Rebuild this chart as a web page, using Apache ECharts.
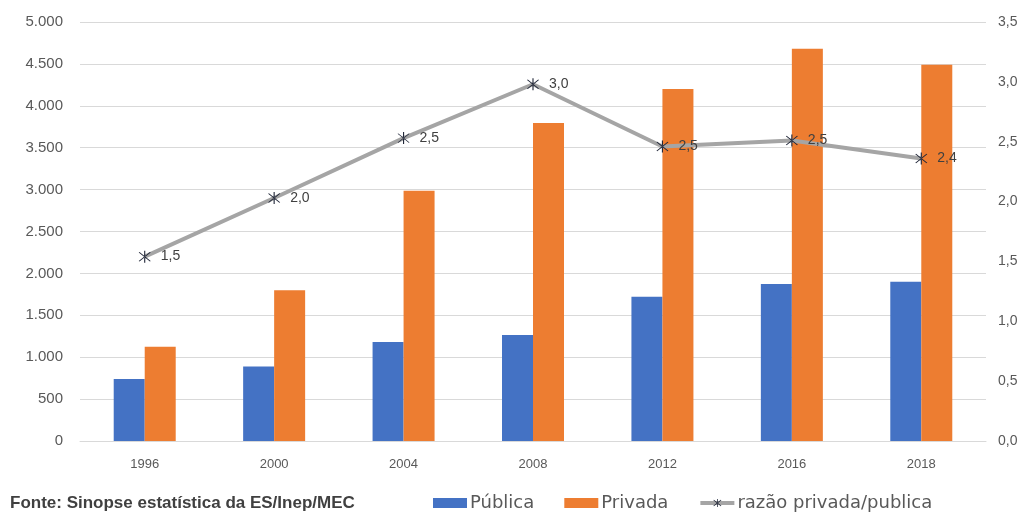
<!DOCTYPE html>
<html>
<head>
<meta charset="utf-8">
<script src="https://cdn.jsdelivr.net/npm/echarts@6/dist/echarts.min.js"></script>
<style>
  html, body { margin: 0; padding: 0; background: #fff; }
  #chart { width: 1026px; height: 515px; }
</style>
</head>
<body>
<div id="chart"></div>
<script>
// dados
const anos = ['1996', '2000', '2004', '2008', '2012', '2016', '2018']
const publica = [740, 890, 1180, 1265, 1720, 1875, 1900]
const privada = [1125, 1800, 2985, 3795, 4200, 4680, 4490]
const razao = [1.54, 2.03, 2.53, 2.98, 2.46, 2.51, 2.36]

const fonte = 'Fonte: Sinopse estatística da ES/Inep/MEC'

// marcador tipo asterisco (Excel "star")
const asterisco = 'path://M9.3,0H10.7V20H9.3Z M2.4,2.9L3.4,2.1L17.6,17.1L16.6,17.9Z M17.6,2.9L16.6,2.1L2.4,17.1L3.4,17.9Z'

const milhar = v => String(v).replace(/\B(?=(\d{3})+(?!\d))/g, '.')
const decimal = v => v.toFixed(1).replace('.', ',')

const chart = echarts.init(document.getElementById('chart'))
const fontFamily = '"Liberation Sans", Arial, sans-serif'

const option = {
  animation: false,
  textStyle: { fontFamily: fontFamily },
  grid: {
    left: 80,
    right: 40,
    top: 22,
    bottom: 74
  },
  graphic: [{
    type: 'text',
    left: 10,
    top: 495,
    style: {
      text: fonte,
      fill: '#404040',
      font: 'bold 17px ' + fontFamily
    }
  }],
  legend: {
    left: 428,
    top: 489,
    itemGap: 30,
    itemWidth: 34,
    itemHeight: 10,
    textStyle: { color: '#595959', fontSize: 18, fontFamily: '"DejaVu Sans", sans-serif', padding: [0, 0, 0, -2] },
    data: [
      { name: 'Pública', icon: 'rect' },
      { name: 'Privada', icon: 'rect' },
      { name: 'razão privada/publica', lineStyle: { width: 4, color: '#a5a5a5' } }
    ]
  },
  xAxis: {
    type: 'category',
    data: anos,
    axisTick: { show: false },
    axisLine: { lineStyle: { color: '#d9d9d9' } },
    axisLabel: { color: '#595959', fontSize: 13, margin: 17 }
  },
  yAxis: [
    {
      type: 'value',
      min: 0,
      max: 5000,
      interval: 500,
      axisLabel: { color: '#595959', fontSize: 15, margin: 17, formatter: milhar },
      splitLine: { lineStyle: { color: '#d9d9d9' } }
    },
    {
      type: 'value',
      min: 0,
      max: 3.5,
      interval: 0.5,
      axisLabel: { color: '#595959', fontSize: 14, margin: 12, formatter: decimal },
      splitLine: { show: false }
    }
  ],
  series: [
    {
      name: 'Pública',
      type: 'bar',
      data: publica,
      barWidth: 31,
      barGap: '0%',
      itemStyle: { color: '#4472c4' }
    },
    {
      name: 'Privada',
      type: 'bar',
      data: privada,
      barWidth: 31,
      itemStyle: { color: '#ed7d31' }
    },
    {
      name: 'razão privada/publica',
      type: 'line',
      yAxisIndex: 1,
      data: razao,
      symbol: asterisco,
      symbolSize: 12,
      itemStyle: { color: '#1f2537' },
      lineStyle: { color: '#a5a5a5', width: 4 },
      label: {
        show: true,
        position: 'right',
        distance: 10,
        color: '#404040',
        fontSize: 14,
        formatter: p => decimal(p.value)
      },
      z: 3
    }
  ]
}

chart.setOption(option)
</script>
</body>
</html>
